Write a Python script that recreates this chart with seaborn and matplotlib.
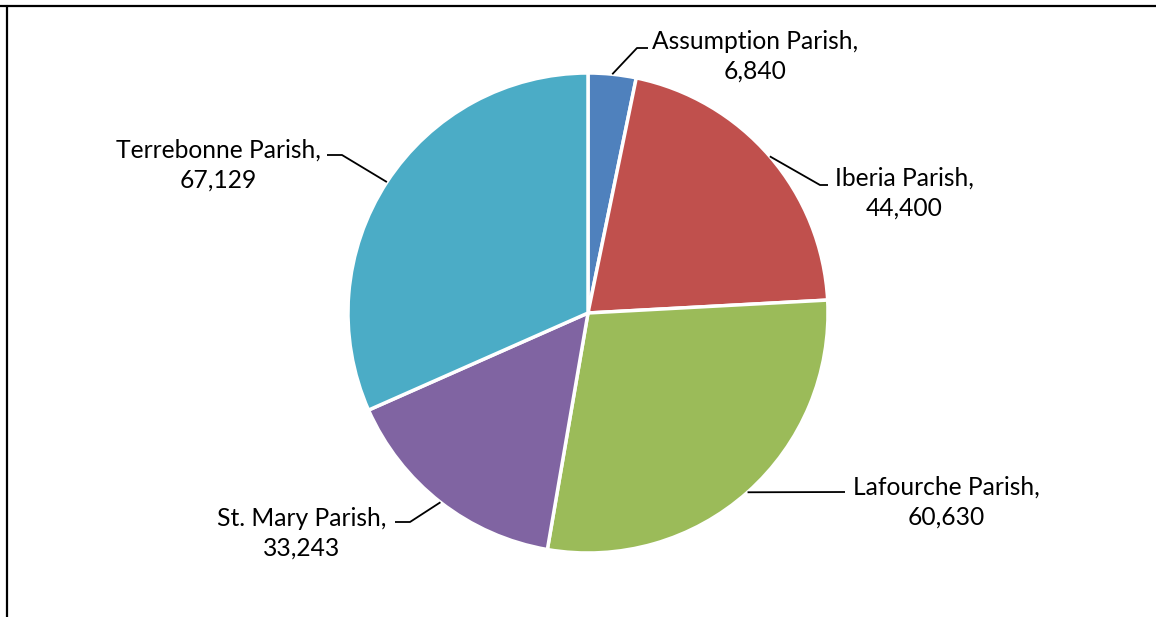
import numpy as np
import matplotlib
matplotlib.use("Agg")
import matplotlib.pyplot as plt
import seaborn as sns
from matplotlib.lines import Line2D

categories = ["Assumption Parish", "Iberia Parish", "Lafourche Parish", "St. Mary Parish", "Terrebonne Parish"]
values = [6840, 44400, 60630, 33243, 67129]
value_labels = ["6,840", "44,400", "60,630", "33,243", "67,129"]
colors = ["#4F81BD", "#C0504D", "#9BBB59", "#8064A2", "#4BACC6"]

sns.set_theme(style="white")
plt.rcParams['font.family'] = ['Lato', 'DejaVu Sans']

W, H = 1156, 617
fig = plt.figure(figsize=(W / 100, H / 100), dpi=100)
ax = fig.add_axes([0, 0, 1, 1])

cx, cy, R = 588, 313, 240
def d(px, py):
    return ((px - cx) / R, (cy - py) / R)

wedges, _ = ax.pie(values, colors=sns.color_palette(colors), startangle=90, counterclock=False,
                   radius=1.0, wedgeprops=dict(edgecolor="white", linewidth=2.5))
ax.set_xlim(d(0, 0)[0], d(W, 0)[0])
ax.set_ylim(d(0, H)[1], d(0, 0)[1])
ax.set_aspect("auto")
ax.axis("off")

# label layout (pixel positions): text center, elbow, end
text_pos = [(755, 56), (904, 193), (946, 502), (302, 533), (218, 165)]
elbows = [[(637, 48), (648, 48)],
          [(820, 185), (828, 185)],
          [(845, 492)],
          [(410, 522), (395, 522)],
          [(342, 155), (327, 155)]]

for w, cat, vl, tp, el in zip(wedges, categories, value_labels, text_pos, elbows):
    mid = np.deg2rad((w.theta1 + w.theta2) / 2)
    pts = [(np.cos(mid), np.sin(mid))] + [d(*p) for p in el]
    xs, ys = zip(*pts)
    ax.plot(xs, ys, color="black", lw=1.3, solid_capstyle="butt")
    tx, ty = d(*tp)
    ax.text(tx, ty, f"{cat},\n{vl}", ha="center", va="center", multialignment="center",
            fontsize=17.7, color="black", linespacing=1.36)

# frame lines (top and left)
fig.add_artist(Line2D([0, 1], [1 - 5.5 / H, 1 - 5.5 / H], transform=fig.transFigure, color="black", lw=1.6))
fig.add_artist(Line2D([6.5 / W, 6.5 / W], [0, 1 - 5.5 / H], transform=fig.transFigure, color="black", lw=1.6))

fig.savefig("out.png", dpi=100, facecolor="white")
